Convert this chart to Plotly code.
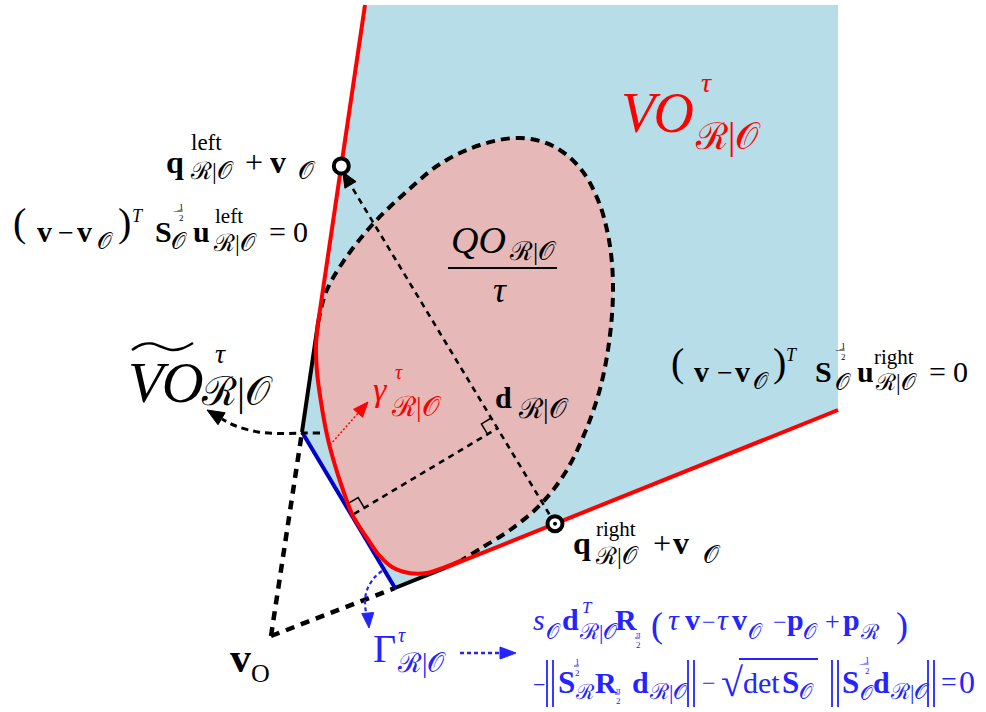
import numpy as np
import plotly.graph_objects as go

W, H = 986, 712

# ---- geometry of the construction (pixel-like coordinates, y grows downward) ----
# velocity-obstacle cone (light blue)
cone_x = [365, 838, 838, 395, 302]
cone_y = [5, 5, 410, 588, 432]

# boundary rays: red where they bound the cone, black where truncated
left_ray_x = [365, 318.2]
left_ray_y = [5, 322]
left_cut_x = [318.2, 302]
left_cut_y = [322, 432]
right_ray_x = [838, 445]
right_ray_y = [410, 567.9]
right_cut_x = [445, 395]
right_cut_y = [567.9, 588]
# cut-off line Gamma (blue)
gamma_x = [302, 395]
gamma_y = [432, 588]

# outline of QO/tau: dashed part then the red part (shared end points)
blob_dash_x = [318.2, 326, 343, 372, 405, 440, 480, 520, 553, 580, 598, 609,
               613, 610, 601, 586, 565, 540, 510, 483, 462]
blob_dash_y = [322, 292, 262, 225, 193, 164, 145, 138, 146, 168, 200, 240,
               285, 335, 385, 430, 473, 505, 530, 547, 560]
blob_red_x = [462, 445, 427, 409, 392, 379, 367, 359, 352, 343, 334, 327,
              321, 317, 316, 318.2]
blob_red_y = [560, 567, 573, 573, 567, 555, 538, 526, 514, 490, 462, 435,
              402, 372, 345, 322]

# tangent points q_left / q_right, apex v_O, foot of d on Gamma
q_left = (341.3, 166)
q_right = (555, 523.7)
v_o = (271, 636)
foot = (354, 514)

# curved helper arrows
vo_tilde_arrow_x = [320, 303, 282, 258, 236, 222]
vo_tilde_arrow_y = [433, 433, 433.5, 432, 426, 419]
gamma_red_arrow_x = [330, 360]
gamma_red_arrow_y = [445, 411]
blue_curve_x = [382, 374, 367, 365, 366, 368]
blue_curve_y = [571, 578, 590, 602, 612, 618]
blue_arrow_x = [460, 503]
blue_arrow_y = [653, 653]

fig = go.Figure()


def line(xs, ys, color, width, dash=None, shape="linear"):
    fig.add_trace(go.Scatter(x=xs, y=ys, mode="lines", hoverinfo="skip",
                             line=dict(color=color, width=width, dash=dash, shape=shape)))


def head(tip, frm, color, length, half):
    tx, ty = tip
    d = np.array([tx - frm[0], ty - frm[1]], float)
    d /= np.linalg.norm(d)
    n = np.array([-d[1], d[0]])
    b = np.array([tx, ty]) - d * length
    pts = [np.array([tx, ty]), b + n * half, b - n * half]
    fig.add_trace(go.Scatter(x=[p[0] for p in pts] + [tx], y=[p[1] for p in pts] + [ty],
                             mode="lines", fill="toself", fillcolor=color, hoverinfo="skip",
                             line=dict(color=color, width=1)))


BLUE_FILL = "#b7dde8"
PINK = "#e6b9b8"
RED = "#ff0000"
BLUE_LINE = "#0000c8"
BLUE_TXT = "#2424ff"

# regions
fig.add_trace(go.Scatter(x=cone_x + [cone_x[0]], y=cone_y + [cone_y[0]], mode="lines",
                         fill="toself", fillcolor=BLUE_FILL, line=dict(width=0),
                         hoverinfo="skip"))
bx = blob_dash_x + blob_red_x[1:]
by = blob_dash_y + blob_red_y[1:]
fig.add_trace(go.Scatter(x=bx, y=by, mode="lines", fill="toself", fillcolor=PINK,
                         line=dict(width=0, shape="spline"), hoverinfo="skip"))

# dashed construction lines from v_O
line([v_o[0], gamma_x[0]], [v_o[1], gamma_y[0]], "black", 4.5, "9px,7px")
line([v_o[0], gamma_x[1]], [v_o[1], gamma_y[1]], "black", 4.5, "9px,7px")

# d direction (diagonal) and its perpendicular through the foot on Gamma
u = np.array([q_left[0] - q_right[0], q_left[1] - q_right[1]], float)
u /= np.linalg.norm(u)
fv = np.array(foot, float) - np.array(q_right, float)
inter = np.array(q_right, float) + u * fv.dot(u)
tipL = np.array(q_left) + np.array([1.5, 6.0])
line([q_right[0], tipL[0] - u[0] * 10], [q_right[1], tipL[1] - u[1] * 10], "black", 2.6, "6px,5px")
line([foot[0], inter[0]], [foot[1], inter[1]], "black", 2.6, "6px,5px")

# right-angle markers
a = 12
e_f = (np.array(foot) - inter) / np.linalg.norm(np.array(foot) - inter)
sq1 = [inter + a * e_f, inter + a * e_f + a * u, inter + a * u]
line([p[0] for p in sq1], [p[1] for p in sq1], "black", 1.5)
g = np.array([gamma_x[0] - gamma_x[1], gamma_y[0] - gamma_y[1]], float)
g /= np.linalg.norm(g)
sq2 = [np.array(foot) - a * e_f, np.array(foot) - a * e_f + a * g, np.array(foot) + a * g]
line([p[0] for p in sq2], [p[1] for p in sq2], "black", 1.5)

# outline of the blob
line(blob_dash_x, blob_dash_y, "black", 4, "9px,6px", "spline")

# cone boundaries
line(left_ray_x, left_ray_y, RED, 4)
line(right_ray_x, right_ray_y, RED, 4)
line(left_cut_x, left_cut_y, "black", 4)
line(right_cut_x, right_cut_y, "black", 4)
line(gamma_x, gamma_y, BLUE_LINE, 4)
line(blob_red_x, blob_red_y, RED, 4, None, "spline")

# helper arrows
line(vo_tilde_arrow_x, vo_tilde_arrow_y, "black", 3, "7px,5px", "spline")
head((207, 410), (vo_tilde_arrow_x[-1], vo_tilde_arrow_y[-1]), "black", 17, 7)
line(gamma_red_arrow_x, gamma_red_arrow_y, RED, 1.5, "2px,2px")
head((368, 402), (gamma_red_arrow_x[0], gamma_red_arrow_y[0]), RED, 15, 6)
line(blue_curve_x, blue_curve_y, BLUE_TXT, 2.2, "4px,3px", "spline")
head((369, 628), (367.5, 610), BLUE_TXT, 15, 6)
line(blue_arrow_x, blue_arrow_y, BLUE_TXT, 2.5, "4px,3px")
head((516, 653), (500, 653), BLUE_TXT, 16, 6)
head((tipL[0], tipL[1]), (tipL[0] - u[0], tipL[1] - u[1]), "black", 15, 6.5)

# tangent point markers
fig.add_trace(go.Scatter(x=[q_left[0], q_right[0]], y=[q_left[1], q_right[1]], mode="markers",
                         marker=dict(size=15, color="white", line=dict(color="black", width=4)),
                         hoverinfo="skip"))
fig.add_trace(go.Scatter(x=[q_right[0]], y=[q_right[1]], mode="markers",
                         marker=dict(size=4, color="black"), hoverinfo="skip"))

# ---- text ----
SERIF = "Liberation Serif, DejaVu Serif, serif"
ann = []
shapes = []
RO = "ℛ|𝒪"
O = "𝒪"


def put(x, yb, s, size, color="black", style=""):
    t = s
    if "b" in style:
        t = "<b>" + t + "</b>"
    if "i" in style:
        t = "<i>" + t + "</i>"
    ann.append(dict(x=x, y=yb - 0.34 * size, text=t, showarrow=False, xanchor="left",
                    yanchor="middle", borderpad=0, xref="x", yref="y",
                    font=dict(family=SERIF, size=size, color=color)))


def hline(x0, x1, y, color="black", width=1.2):
    shapes.append(dict(type="line", x0=x0, x1=x1, y0=y, y1=y, xref="x", yref="y",
                       line=dict(color=color, width=width)))


def vline(x, y0, y1, color="black", width=1.6):
    shapes.append(dict(type="line", x0=x, x1=x, y0=y0, y1=y1, xref="x", yref="y",
                       line=dict(color=color, width=width)))


def frac(x, ym, num, den, size, color="black", minus=False):
    # small stacked fraction, optionally preceded by a minus sign
    if minus:
        put(x, ym + 0.3 * size, "−", size, color)
        x += 0.62 * size
    put(x, ym - 0.12 * size, num, size, color)
    put(x, ym + 1.1 * size, den, size, color)
    hline(x, x + 0.55 * size, ym, color, 1)


# VO^tau (red)
put(620, 132, "VO", 56, RED, "i")
put(700, 92, "τ", 28, RED, "i")
put(694, 149, RO, 37, RED)

# QO / tau
put(450, 253, "QO", 38, "black", "i")
put(508, 260, RO, 26)
hline(448, 557, 268, "black", 2.2)
put(492, 302, "τ", 36, "black", "i")

# q_left + v_O
put(165, 173, "q", 32, "black", "b")
put(190, 150, "left", 23)
put(189, 179, RO, 24)
put(244, 173, "+", 32)
put(269, 173, "v", 32, "black", "b")
put(297, 179, O, 25)

# left tangent line equation
put(12, 236, "(", 40)
put(36, 242, "v", 30, "black", "b")
put(57, 242, "−", 28)
put(76, 242, "v", 30, "black", "b")
put(96, 249, O, 23)
put(117, 236, ")", 40)
put(131, 222, "T", 18, "black", "i")
put(154, 242, "S", 30, "black", "b")
frac(172, 211, "1", "2", 9, minus=True)
put(170, 249, O, 23)
put(192, 242, "u", 30, "black", "b")
put(214, 223, "left", 21)
put(212, 251, RO, 24)
put(268, 242, "=", 30)
put(292, 242, "0", 30)

# right tangent line equation
put(670, 376, "(", 40)
put(693, 382, "v", 30, "black", "b")
put(716, 382, "−", 28)
put(734, 382, "v", 30, "black", "b")
put(752, 389, O, 23)
put(772, 376, ")", 40)
put(785, 361, "T", 18, "black", "i")
put(814, 382, "S", 30, "black", "b")
frac(834, 350, "1", "2", 9, minus=True)
put(834, 390, O, 23)
put(856, 382, "u", 30, "black", "b")
put(873, 364, "right", 21)
put(874, 390, RO, 23)
put(928, 382, "=", 30)
put(952, 382, "0", 30)

# tilde VO^tau
put(127, 402, "VO", 58, "black", "i")
put(214, 363, "τ", 28, "black", "i")
put(200, 405, RO, 40)
tx = [132, 142, 152, 162, 172, 182, 193]
ty = [350, 344.5, 343.5, 347, 350, 348.5, 343]
line(tx, ty, "black", 2.4, None, "spline")

# gamma^tau (red)
put(372, 401, "γ", 34, RED, "i")
put(394, 379, "τ", 20, RED, "i")
put(390, 416, RO, 28, RED)

# d_R|O
put(494, 408, "d", 30, "black", "b")
put(517, 418, RO, 28)

# q_right + v_O
put(572, 554, "q", 32, "black", "b")
put(595, 536, "right", 21)
put(594, 564, RO, 24)
put(652, 554, "+", 32)
put(672, 554, "v", 32, "black", "b")
put(702, 563, O, 25)

# v_O at apex
put(229, 672, "v", 42, "black", "b")
put(250, 682, "O", 26)

# Gamma^tau (blue)
put(372, 662, "Γ", 40, BLUE_TXT)
put(397, 642, "τ", 20, BLUE_TXT, "i")
put(396, 672, RO, 27, BLUE_TXT)

# blue equation, first line
put(532, 630, "s", 30, BLUE_TXT, "i")
put(545, 639, O, 21, BLUE_TXT)
put(561, 630, "d", 30, BLUE_TXT, "b")
put(581, 613, "T", 17, BLUE_TXT, "i")
put(578, 639, RO, 22, BLUE_TXT)
put(614, 630, "R", 30, BLUE_TXT, "b")
frac(635, 638, "π", "2", 9, BLUE_TXT)
put(650, 637, "(", 36, BLUE_TXT)
put(667, 630, "τ", 30, BLUE_TXT, "i")
put(684, 630, "v", 30, BLUE_TXT, "b")
put(701, 630, "−", 24, BLUE_TXT)
put(716, 630, "τ", 30, BLUE_TXT, "i")
put(731, 630, "v", 30, BLUE_TXT, "b")
put(747, 639, O, 21, BLUE_TXT)
put(772, 630, "−", 24, BLUE_TXT)
put(786, 630, "p", 30, BLUE_TXT, "b")
put(802, 639, O, 21, BLUE_TXT)
put(824, 630, "+", 26, BLUE_TXT)
put(842, 630, "p", 30, BLUE_TXT, "b")
put(859, 639, "ℛ", 21, BLUE_TXT)
put(895, 637, ")", 36, BLUE_TXT)

# blue equation, second line
put(532, 692, "−", 22, BLUE_TXT)
for xv in (547, 553, 688, 694, 832, 838, 928, 934):
    vline(xv, 660, 707, BLUE_TXT, 1.8)
put(557, 693, "S", 31, BLUE_TXT, "b")
frac(574, 666, "1", "2", 9, BLUE_TXT)
put(574, 699, "ℛ", 21, BLUE_TXT)
put(594, 693, "R", 30, BLUE_TXT, "b")
frac(615, 694, "π", "2", 9, BLUE_TXT)
put(631, 693, "d", 30, BLUE_TXT, "b")
put(648, 699, RO, 22, BLUE_TXT)
put(701, 691, "−", 24, BLUE_TXT)
put(720, 696, "√", 40, BLUE_TXT)
hline(739, 818, 659, BLUE_TXT, 1.8)
put(742, 693, "det", 30, BLUE_TXT)
put(781, 693, "S", 31, BLUE_TXT, "b")
put(798, 699, O, 21, BLUE_TXT)
put(841, 693, "S", 31, BLUE_TXT, "b")
frac(858, 664, "1", "2", 9, BLUE_TXT, minus=True)
put(859, 700, O, 20, BLUE_TXT)
put(872, 693, "d", 30, BLUE_TXT, "b")
put(889, 699, RO, 22, BLUE_TXT)
put(940, 691, "=", 28, BLUE_TXT)
put(958, 693, "0", 32, BLUE_TXT)

fig.update_layout(
    width=W, height=H, margin=dict(l=0, r=0, t=0, b=0),
    paper_bgcolor="white", plot_bgcolor="white", showlegend=False,
    xaxis=dict(range=[0, W], visible=False, fixedrange=True),
    yaxis=dict(range=[H, 0], visible=False, fixedrange=True),
    annotations=ann, shapes=shapes,
)
fig.write_html("out.html")
